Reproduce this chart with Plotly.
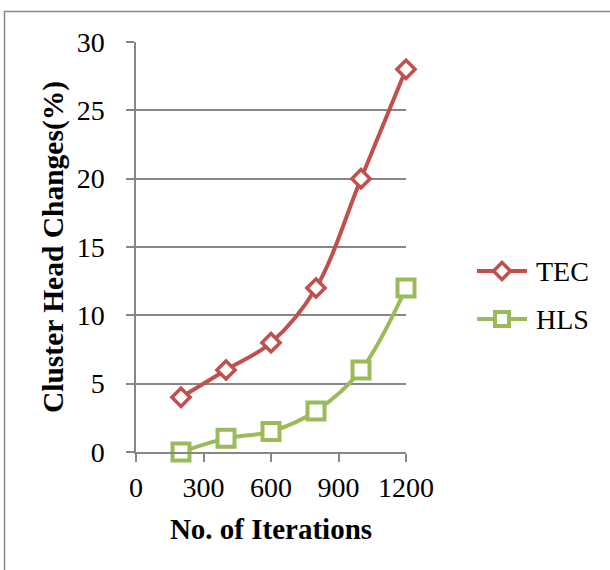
import plotly.graph_objects as go

iterations = [200, 400, 600, 800, 1000, 1200]
tec = [4, 6, 8, 12, 20, 28]
hls = [0, 1, 1.5, 3, 6, 12]
series_names = ["TEC", "HLS"]
x_ticks = [0, 300, 600, 900, 1200]
y_ticks = [0, 5, 10, 15, 20, 25, 30]

RED = "#C0504D"
GREEN = "#9BBB59"
GRID = "#868686"
FONT = "Liberation Serif"

L, R, T, B = 136, 406, 42, 452
W, H = 610, 570

styles = [
    dict(color=RED, symbol="diamond", size=14, mlw=3.5, leg_size=13),
    dict(color=GREEN, symbol="square", size=17, mlw=4, leg_size=14),
]

fig = go.Figure()
for name, vals, st in zip(series_names, [tec, hls], styles):
    fig.add_trace(go.Scatter(
        x=iterations, y=vals, name=name, mode="lines+markers",
        line=dict(color=st["color"], width=4, shape="spline", smoothing=1),
        marker=dict(symbol=st["symbol"], size=st["size"], color="white",
                    line=dict(color=st["color"], width=st["mlw"])),
        cliponaxis=False, showlegend=False,
    ))

# manual legend drawn on a full-figure pixel-mapped axis pair
leg_y = [271, 319]
for name, st, yy in zip(series_names, styles, leg_y):
    fig.add_trace(go.Scatter(
        x=[477, 527], y=[yy, yy], xaxis="x2", yaxis="y2", mode="lines",
        line=dict(color=st["color"], width=4), cliponaxis=False,
        showlegend=False, hoverinfo="skip",
    ))
    fig.add_trace(go.Scatter(
        x=[502], y=[yy], xaxis="x2", yaxis="y2", mode="markers",
        marker=dict(symbol=st["symbol"], size=st["leg_size"],
                    color="white", line=dict(color=st["color"], width=st["mlw"])),
        cliponaxis=False, showlegend=False, hoverinfo="skip",
    ))
    fig.add_annotation(x=534, y=yy, xref="x2", yref="y2", text=name,
                       showarrow=False, xanchor="left", yanchor="middle",
                       font=dict(family=FONT, size=28, color="black"))

fig.add_shape(type="rect", xref="x2", yref="y2",
              x0=4.5, x1=640, y0=11.5, y1=620,
              line=dict(color=GRID, width=1.5), fillcolor="rgba(0,0,0,0)",
              layer="below")

fig.update_layout(
    width=W, height=H,
    margin=dict(l=0, r=0, t=0, b=0, pad=0),
    paper_bgcolor="white", plot_bgcolor="rgba(0,0,0,0)",
    font=dict(family=FONT, size=28, color="black"),
    showlegend=False,
    xaxis=dict(
        domain=[L / W, R / W], anchor="y",
        range=[0, 1200], tickvals=x_ticks, ticktext=[str(v) for v in x_ticks],
        showgrid=False, zeroline=False, showline=True, linecolor=GRID, linewidth=1.5,
        ticks="outside", ticklen=8, tickcolor=GRID, tickwidth=1.5,
        tickfont=dict(family=FONT, size=28), ticklabelstandoff=2,
        automargin=False,
        title=dict(text="<b>No. of Iterations</b>", font=dict(family=FONT, size=29), standoff=16),
    ),
    yaxis=dict(
        domain=[(H - B) / H, (H - T) / H], anchor="x",
        range=[0, 30], tickvals=y_ticks, ticktext=[str(v) for v in y_ticks],
        showgrid=True, gridcolor=GRID, gridwidth=1.5, zeroline=False,
        showline=True, linecolor=GRID, linewidth=1.5,
        ticks="outside", ticklen=8, tickcolor=GRID, tickwidth=1.5,
        tickfont=dict(family=FONT, size=28), ticklabelstandoff=16,
        automargin=False,
        title=dict(text="<b>Cluster Head Changes(%)</b>", font=dict(family=FONT, size=29.5), standoff=4),
    ),
    xaxis2=dict(domain=[0, 1], range=[0, W], anchor="y2", visible=False, fixedrange=True),
    yaxis2=dict(domain=[0, 1], range=[H, 0], anchor="x2", visible=False, fixedrange=True),
)

fig.write_html("out.html")
